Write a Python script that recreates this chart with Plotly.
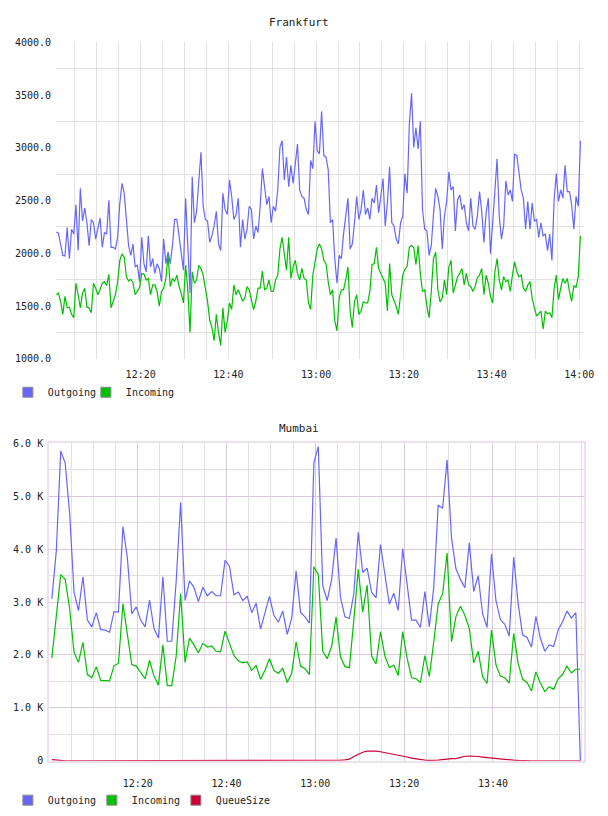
import plotly.graph_objects as go
import pandas as pd

# ---------------- data ----------------
fra_out = [
    2203, 2191, 2088, 1980, 1974, 2244, 1949, 2228, 2182, 2461,
    2026, 2616, 2306, 2430, 2290, 2073, 2321, 2290, 2135, 2228,
    2337, 2057, 2197, 2182, 2502, 2057, 2057, 2042, 2151, 2477,
    2663, 2570, 2352, 2073, 1980, 2088, 1871, 1887, 1731, 2151,
    1902, 1824, 2166, 1871, 1949, 1809, 1902, 1856, 1731, 2135,
    1902, 2011, 1902, 2073, 2321, 2321, 2166, 2011, 1840, 2523,
    2135, 1623, 2725, 2290, 2399, 2694, 2958, 2446, 2321, 2306,
    2104, 2166, 2259, 2399, 2088, 2026, 2570, 2414, 2368, 2694,
    2539, 2321, 2368, 2523, 2057, 2321, 2135, 2228, 2446, 2415,
    2135, 2259, 2197, 2446, 2803, 2632, 2461, 2539, 2290, 2446,
    2399, 2601, 3005, 3067, 2694, 2912, 2632, 2834, 2663, 2849,
    3036, 2601, 2539, 2523, 2415, 2368, 2881, 2803, 3253, 2974,
    2943, 3346, 2927, 2912, 2794, 2290, 2321, 1949, 1716, 1980,
    1949, 2182, 2384, 2523, 2042, 2088, 2290, 2539, 2321, 2415,
    2601, 2368, 2430, 2321, 2523, 2477, 2648, 2384, 2539, 2710,
    2259, 2477, 2818, 2290, 2259, 2135, 2088, 2290, 2352, 2756,
    2570, 3222, 3517, 3005, 3191, 2989, 3253, 2415, 2228, 2213,
    1980, 2073, 2368, 2616, 2539, 2415, 2042, 2352, 2492, 2772,
    2601, 2632, 2213, 2508, 2554, 2415, 2461, 2290, 2213, 2523,
    2259, 2228, 2352, 2585, 2399, 2104, 2384, 2523, 1995, 2290,
    2663, 2896, 2352, 2135, 2259, 2688, 2554, 2601, 2492, 2943,
    2927, 2756, 2601, 2523, 2228, 2492, 2228, 2477, 2306, 2321,
    2151, 2290, 2166, 2182, 2026, 2182, 1933, 2508, 2756, 2492,
    2601, 2523, 2834, 2585, 2585, 2461, 2228, 2539, 2446, 3067,
]
fra_in = [
    1607, 1623, 1545, 1421, 1592, 1483, 1489, 1421, 1390, 1716,
    1607, 1483, 1623, 1669, 1489, 1483, 1436, 1716, 1669, 1607,
    1654, 1716, 1731, 1694, 1800, 1483, 1545, 1607, 1731, 1933,
    1995, 1964, 1778, 1737, 1753, 1722, 1607, 1644, 1675, 1809,
    1803, 1747, 1762, 1607, 1700, 1700, 1638, 1498, 1638, 1669,
    1762, 1980, 1685, 1762, 1731, 1793, 1685, 1623, 1529, 1887,
    1654, 1250, 1825, 1716, 1747, 1887, 1856, 1793, 1685, 1545,
    1365, 1296, 1172, 1421, 1250, 1126, 1483, 1250, 1359, 1529,
    1467, 1700, 1607, 1654, 1601, 1545, 1576, 1685, 1654, 1561,
    1467, 1545, 1669, 1669, 1831, 1654, 1669, 1747, 1638, 1638,
    1747, 1793, 2042, 2151, 1964, 1840, 2151, 1762, 1871, 1933,
    1809, 1747, 1856, 1762, 1747, 1529, 1467, 1793, 1918, 2042,
    2088, 2042, 1933, 1902, 1731, 1607, 1654, 1359, 1265, 1576,
    1654, 1654, 1747, 1871, 1452, 1296, 1545, 1607, 1421, 1452,
    1539, 1529, 1529, 1638, 1893, 1902, 2057, 1856, 1809, 1762,
    1716, 1452, 1902, 1607, 1560, 1498, 1421, 1607, 1793, 1849,
    1877, 2057, 2073, 2057, 1893, 2073, 1809, 1638, 1654, 1498,
    1390, 1638, 1949, 2011, 1654, 1539, 1576, 1747, 1607, 1871,
    1933, 1623, 1700, 1778, 1809, 1856, 1700, 1809, 1700, 1685,
    1638, 1685, 1769, 1793, 1856, 1607, 1793, 1716, 1592, 1529,
    1825, 1949, 1747, 1654, 1778, 1731, 1747, 1638, 1793, 1918,
    1825, 1778, 1793, 1669, 1638, 1700, 1731, 1576, 1483, 1405,
    1427, 1452, 1281, 1452, 1427, 1436, 1390, 1663, 1793, 1560,
    1669, 1762, 1716, 1762, 1638, 1545, 1694, 1675, 1778, 2166,
]
mum_out_k = [
    3.06, 3.96, 5.86, 5.63, 4.68, 3.19, 2.84, 3.48, 2.66, 2.53,
    2.80, 2.48, 2.47, 2.43, 2.82, 2.81, 4.43, 3.84, 2.78, 2.91,
    2.66, 2.53, 3.04, 2.50, 2.32, 3.48, 2.26, 2.26, 3.40, 4.89,
    3.03, 3.40, 3.28, 3.01, 3.28, 3.12, 3.20, 3.12, 3.12, 3.79,
    3.68, 3.14, 3.19, 3.03, 3.11, 2.80, 2.98, 2.49, 2.80, 3.11,
    2.75, 2.62, 2.83, 2.39, 2.69, 3.59, 2.81, 2.72, 2.60, 5.64,
    5.94, 3.31, 3.03, 3.43, 4.21, 3.09, 2.72, 2.69, 3.16, 4.32,
    3.56, 3.64, 3.19, 3.08, 4.09, 3.53, 2.96, 3.17, 2.84, 4.01,
    3.28, 2.66, 2.66, 2.52, 3.20, 2.53, 3.28, 4.83, 4.78, 5.69,
    4.21, 3.63, 3.43, 3.27, 4.12, 3.20, 3.50, 2.78, 2.52, 3.91,
    3.03, 2.67, 2.58, 2.36, 3.85, 2.97, 2.38, 2.33, 2.15, 2.73,
    2.32, 2.07, 2.19, 2.16, 2.47, 2.63, 2.83, 2.70, 2.80, 0.00,
]
mum_in_k = [
    1.94, 2.72, 3.52, 3.43, 2.88, 2.05, 1.86, 2.24, 1.63, 1.57,
    1.78, 1.52, 1.52, 1.51, 1.80, 1.84, 2.97, 2.38, 1.82, 1.79,
    1.66, 1.55, 1.90, 1.60, 1.43, 2.19, 1.42, 1.42, 1.98, 3.16,
    1.86, 2.32, 2.19, 2.04, 2.22, 2.15, 2.17, 2.07, 2.06, 2.45,
    2.22, 1.99, 1.89, 1.85, 1.87, 1.71, 1.80, 1.54, 1.71, 1.93,
    1.71, 1.65, 1.75, 1.48, 1.65, 2.25, 1.79, 1.74, 1.63, 3.67,
    3.52, 2.07, 1.93, 2.16, 2.72, 1.96, 1.78, 1.76, 2.66, 3.62,
    2.81, 3.32, 1.98, 1.83, 2.44, 1.98, 1.76, 1.81, 1.61, 2.44,
    1.94, 1.57, 1.55, 1.48, 1.99, 1.59, 2.25, 2.97, 3.16, 3.93,
    2.25, 2.73, 2.92, 2.75, 2.50, 1.85, 2.07, 1.59, 1.46, 2.47,
    1.82, 1.60, 1.57, 1.47, 2.41, 1.84, 1.54, 1.48, 1.32, 1.68,
    1.47, 1.31, 1.40, 1.35, 1.55, 1.63, 1.79, 1.66, 1.73, 1.73,
]
mum_queue_k = [
    0.02, 0.01, 0.005, 0, 0, 0, 0, 0, 0, 0,
    0, 0, 0, 0, 0, 0, 0, 0, 0, 0,
    0, 0, 0, 0, 0, 0, 0, 0, 0, 0,
    0, 0, 0, 0, 0, 0, 0, 0, 0, 0,
    0, 0, 0, 0, 0, 0, 0, 0, 0, 0,
    0, 0, 0, 0, 0, 0, 0, 0, 0, 0,
    0, 0, 0.005, 0.008, 0.01, 0.012, 0.015, 0.03, 0.08, 0.12,
    0.16, 0.18, 0.185, 0.18, 0.17, 0.155, 0.14, 0.125, 0.11, 0.09,
    0.07, 0.05, 0.035, 0.02, 0.01, 0.005, 0.005, 0.01, 0.02, 0.035,
    0.04, 0.04, 0.06, 0.085, 0.09, 0.09, 0.08, 0.07, 0.06, 0.05,
    0.04, 0.03, 0.02, 0.015, 0.01, 0.005, 0, 0, 0, 0,
    0, 0, 0, 0, 0, 0, 0, 0, 0, 0,
]
series_names = ["Outgoing", "Incoming", "QueueSize"]
mum_ticktext = ["0", "1.0 K", "2.0 K", "3.0 K", "4.0 K", "5.0 K", "6.0 K"]
mum_xticks = ["2024-01-01 12:20", "2024-01-01 12:40", "2024-01-01 13:00",
              "2024-01-01 13:20", "2024-01-01 13:40"]
mum_xticktext = ["12:20", "12:40", "13:00", "13:20", "13:40"]

fra_time = pd.date_range("2024-01-01 12:00:45", periods=len(fra_out), freq="30s")
mum_time = pd.date_range("2024-01-01 12:00:40", periods=len(mum_out_k), freq="60s")
mum_out = [v * 1000 for v in mum_out_k]
mum_in = [v * 1000 for v in mum_in_k]
mum_queue = [v * 1000 for v in mum_queue_k]

# ---------------- style ----------------
W, H = 608, 816
FONT = "DejaVu Sans Mono"
BLUE, GREEN, RED = "#6666ff", "#00c000", "#cc0033"
GRID = "#e2e2e2"
PURPLE_GRID = "#dcc8dc"
BORDER = "#eddfed"
TXT = "#222222"


def px_x(p):
    return p / W


def px_y(p):
    return 1 - p / H


fig = go.Figure()
colors = [BLUE, GREEN, RED]

for ys, c in [(fra_out, BLUE), (fra_in, GREEN)]:
    fig.add_trace(go.Scatter(x=fra_time, y=ys, mode="lines", line=dict(color=c, width=1.2),
                             xaxis="x", yaxis="y", showlegend=False, hoverinfo="skip"))
for ys, c in [(mum_out, BLUE), (mum_in, GREEN), (mum_queue, RED)]:
    fig.add_trace(go.Scatter(x=mum_time, y=ys, mode="lines", line=dict(color=c, width=1.2),
                             xaxis="x2", yaxis="y2", showlegend=False, hoverinfo="skip"))


def add_swatches(names, legend_id, xa, ya):
    for i, name in enumerate(names):
        fig.add_trace(go.Scatter(x=[None], y=[None], mode="markers", name=name, legend=legend_id,
                                 marker=dict(symbol="square", size=10, color=colors[i],
                                             line=dict(color="#8a8a8a", width=1)),
                                 xaxis=xa, yaxis=ya, hoverinfo="skip"))
    # blank trailing entry so the last label is not clipped by the fixed entry width
    fig.add_trace(go.Scatter(x=[None], y=[None], mode="markers", name="\u00a0", legend=legend_id,
                             marker=dict(symbol="square", size=10, color="rgba(0,0,0,0)",
                                         line=dict(width=0)),
                             xaxis=xa, yaxis=ya, hoverinfo="skip"))


add_swatches(series_names[:2], "legend", "x", "y")
add_swatches(series_names, "legend2", "x2", "y2")

tickfont = dict(family=FONT, size=10, color=TXT)

fig.update_layout(
    width=W, height=H, margin=dict(l=0, r=0, t=0, b=0),
    paper_bgcolor="white", plot_bgcolor="white",
    font=dict(family=FONT, size=10, color=TXT),
    xaxis=dict(
        domain=[px_x(57), px_x(594)], anchor="y", type="date",
        range=["2024-01-01 12:00:43", "2024-01-01 14:01:07"],
        tick0="2024-01-01 12:00", dtick=20 * 60 * 1000, tickformat="%H:%M",
        showgrid=True, gridcolor=GRID, gridwidth=1,
        minor=dict(tick0="2024-01-01 12:00", dtick=5 * 60 * 1000, showgrid=True, gridcolor=GRID),
        showline=False, zeroline=False, ticks="", tickfont=tickfont, ticklabelstandoff=8,
    ),
    yaxis=dict(
        domain=[px_y(358), px_y(37)], anchor="x", range=[1000, 4000],
        tick0=1000, dtick=500, tickformat=".1f", showgrid=False,
        minor=dict(tick0=1250, dtick=500, showgrid=True, gridcolor=GRID),
        zeroline=False, showline=False, ticks="", tickfont=tickfont, ticklabelstandoff=4,
    ),
    xaxis2=dict(
        domain=[px_x(50), px_x(594)], anchor="y2", type="date",
        range=["2024-01-01 12:00:04", "2024-01-01 14:00:33"],
        tickvals=mum_xticks, ticktext=mum_xticktext,
        showgrid=True, gridcolor=PURPLE_GRID, gridwidth=1,
        minor=dict(tick0="2024-01-01 12:00", dtick=5 * 60 * 1000, showgrid=True, gridcolor=GRID),
        showline=True, mirror=True, linecolor=BORDER, linewidth=2,
        zeroline=False, ticks="", tickfont=tickfont, ticklabelstandoff=12,
    ),
    yaxis2=dict(
        domain=[px_y(766), px_y(444)], anchor="x2", range=[0, 6000],
        tickvals=[0, 1000, 2000, 3000, 4000, 5000, 6000], ticktext=mum_ticktext,
        showgrid=True, gridcolor=PURPLE_GRID,
        minor=dict(tick0=500, dtick=1000, showgrid=True, gridcolor=GRID),
        showline=True, mirror=True, linecolor=BORDER, linewidth=2,
        zeroline=False, ticks="", tickfont=tickfont, ticklabelstandoff=2,
    ),
    legend=dict(orientation="h", x=px_x(8), xanchor="left", y=px_y(392), yanchor="middle",
                font=dict(family=FONT, size=10, color=TXT), bgcolor="rgba(0,0,0,0)",
                entrywidth=33, itemclick=False, itemdoubleclick=False),
    legend2=dict(orientation="h", x=px_x(8), xanchor="left", y=px_y(806), yanchor="middle",
                 font=dict(family=FONT, size=10, color=TXT), bgcolor="rgba(0,0,0,0)",
                 entrywidth=39, itemclick=False, itemdoubleclick=False),
    annotations=[
        dict(text="Frankfurt", x=0.5, y=px_y(17), xref="paper", yref="paper",
             showarrow=False, font=dict(family=FONT, size=11, color=TXT), xanchor="center", yanchor="middle"),
        dict(text="Mumbai", x=0.5, y=px_y(429), xref="paper", yref="paper",
             showarrow=False, font=dict(family=FONT, size=11, color=TXT), xanchor="center", yanchor="middle"),
    ],
)

fig.write_html("out.html")
